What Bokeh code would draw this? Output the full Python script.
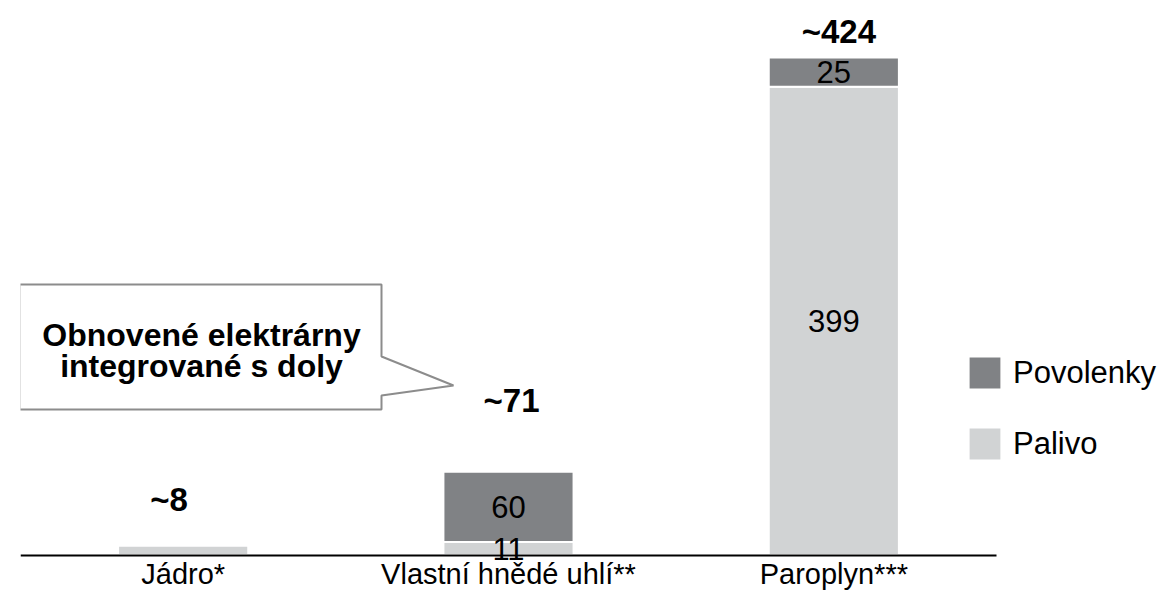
from bokeh.plotting import figure
from bokeh.models import Range1d, Legend, LegendItem, ColumnDataSource, FixedTicker
from bokeh.core.properties import value
from bokeh.embed import file_html
from bokeh.resources import INLINE

# ---- data ----
categories = ["Jádro*", "Vlastní hnědé uhlí**", "Paroplyn***"]
palivo = [8, 11, 399]
povolenky = [0, 60, 25]
series_names = ["Palivo", "Povolenky"]
callout_lines = ["Obnovené elektrárny", "integrované s doly"]

totals = [a + b for a, b in zip(palivo, povolenky)]
total_labels = ["~%d" % t for t in totals]
xpos = [i + 0.5 for i in range(len(categories))]

# ---- style ----
FONT = "Liberation Sans"
C_PAL = "#d1d3d4"
C_POV = "#808285"

W, H = 1157, 590
FRAME_LEFT_PX = 20.0
CAT_PX = 325.33
ZERO_PX = 554.5
PX_PER_UNIT = 1.1733
BASE_FIX = 12  # correction between requested and drawn alphabetic baseline


def px_x(v):
    return (v - FRAME_LEFT_PX) / CAT_PX


def px_y(v):
    return (ZERO_PX - v) / PX_PER_UNIT


p = figure(x_range=Range1d(0, (W - FRAME_LEFT_PX) / CAT_PX),
           y_range=Range1d(-(H - ZERO_PX) / PX_PER_UNIT, ZERO_PX / PX_PER_UNIT),
           width=W, height=H, output_backend="svg", toolbar_location=None,
           x_axis_location="below", y_axis_location=None,
           min_border_left=int(FRAME_LEFT_PX), min_border_right=0, min_border_top=0,
           min_border_bottom=0, outline_line_color=None)
p.grid.grid_line_color = None

src = ColumnDataSource(dict(x=xpos, Palivo=palivo, Povolenky=povolenky))
rs = p.vbar_stack(series_names, x="x", width=0.4, source=src,
                  fill_color=[C_PAL, C_POV], line_color="white", line_width=2)

# segment labels
seg_x, seg_y, seg_t = [], [], []
for xv, a, b in zip(xpos, palivo, povolenky):
    if a > 0 and b > 0:
        seg_x += [xv, xv]
        seg_y += [a / 2.0, a + b / 2.0]
        seg_t += [str(a), str(b)]
p.text(x=seg_x, y=seg_y, text=seg_t, text_align="center", text_baseline="middle",
       text_font=value(FONT), text_font_size="31px", text_color="black")

# total labels
tot_dx = [-14, 3, 5]
tot_dy = [-34 - BASE_FIX, -59 - BASE_FIX, -14 - BASE_FIX]
tsrc = ColumnDataSource(dict(x=xpos, y=totals, t=total_labels, dx=tot_dx, dy=tot_dy))
p.text(x="x", y="y", text="t", x_offset="dx", y_offset="dy", source=tsrc,
       text_align="center", text_baseline="alphabetic", text_font=value(FONT),
       text_font_size="33px", text_font_style="bold", text_color="black")

# callout box
xs_px = [19, 381, 381, 453, 381, 381, 19]
ys_px = [284, 284, 356, 385, 395, 409, 409]
p.patch(x=[px_x(v) for v in xs_px], y=[px_y(v) for v in ys_px],
        fill_color="white", line_color="#8c8c8c", line_width=2)
p.text(x=[px_x(201), px_x(201)], y=[px_y(346 - BASE_FIX), px_y(377 - BASE_FIX)],
       text=callout_lines, text_align="center", text_baseline="alphabetic",
       text_font=value(FONT), text_font_size="32px", text_font_style="bold",
       text_color="black")

# axis
ax = p.xaxis[0]
ax.fixed_location = 0
ax.bounds = (0, len(categories))
ax.ticker = FixedTicker(ticks=xpos)
ax.major_label_overrides = {xv: c for xv, c in zip(xpos, categories)}
ax.axis_line_color = "black"
ax.axis_line_width = 2
ax.major_tick_line_color = None
ax.minor_tick_line_color = None
ax.major_label_text_font = FONT
ax.major_label_text_font_size = "29px"
ax.major_label_text_color = "black"
ax.major_label_standoff = -3

legend = Legend(items=[LegendItem(label="Povolenky", renderers=[rs[1]]),
                       LegendItem(label="Palivo", renderers=[rs[0]])],
                location=(944, 126), orientation="vertical",
                glyph_width=41, glyph_height=41, label_standoff=8, spacing=30,
                padding=0, margin=0, border_line_color=None,
                background_fill_alpha=0, label_text_font=FONT,
                label_text_font_size="31px", label_text_color="black",
                label_text_baseline="middle")
p.add_layout(legend)

open("out.html", "w", encoding="utf-8").write(file_html(p, INLINE))
